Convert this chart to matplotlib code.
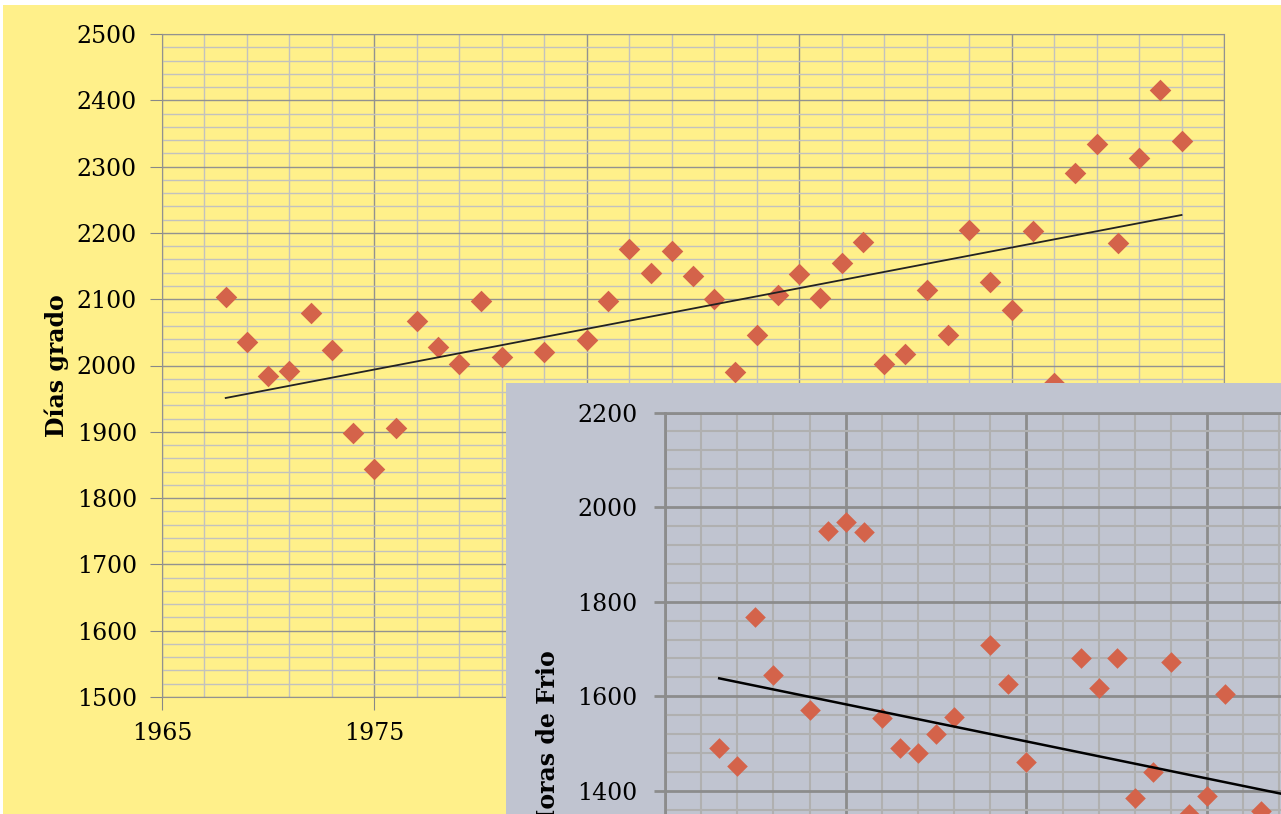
import matplotlib
matplotlib.use("Agg")
import matplotlib.pyplot as plt
from matplotlib.ticker import MultipleLocator

# --- DONNÉES : Días grado (graphique principal) ---
grado_years = [1968, 1969, 1970, 1971, 1972, 1973, 1974, 1975, 1976, 1977,
               1978, 1979, 1980, 1981, 1983, 1985, 1986, 1987, 1988, 1989,
               1990, 1991, 1992, 1993, 1994, 1995, 1996, 1997, 1998, 1999,
               2000, 2001, 2002, 2003, 2004, 2005, 2006, 2007, 2008, 2009,
               2010, 2011, 2012, 2013]
grado_vals = [2103, 2035, 1984, 1992, 2079, 2023, 1898, 1844, 1906, 2067,
              2028, 2002, 2097, 2013, 2020, 2038, 2097, 2176, 2140, 2173,
              2135, 2100, 1990, 2046, 2107, 2138, 2102, 2154, 2186, 2002,
              2017, 2114, 2046, 2204, 2126, 2084, 2203, 1974, 2290, 2334,
              2185, 2313, 2416, 2339]
grado_trend_years = [1968, 2013]
grado_trend_vals = [1951, 2227]

# --- DONNÉES : Horas de Frio (encart) ---
frio_years = [1968, 1969, 1970, 1971, 1973, 1974, 1975, 1976, 1977, 1978,
              1979, 1980, 1981, 1983, 1984, 1985, 1988, 1989, 1990, 1991,
              1992, 1993, 1994, 1995, 1996, 1998]
frio_vals = [1490, 1452, 1767, 1645, 1570, 1950, 1969, 1948, 1555, 1490,
             1481, 1521, 1557, 1708, 1627, 1462, 1682, 1617, 1682, 1386,
             1439, 1672, 1352, 1390, 1604, 1358]
frio_trend_years = [1968, 2013]
frio_trend_vals = [1638, 1285]

YELLOW = '#FFF08A'
GREY_BG = '#C0C4D0'
MARKER = '#D4634A'

W, H = 1281, 814
fig = plt.figure(figsize=(W / 100, H / 100), dpi=100, facecolor='white')
plt.rcParams['font.family'] = 'DejaVu Serif'


def fig_rect(x0, y0, x1, y1):
    """Pixels (haut-gauche) -> coordonnées figure."""
    return [x0 / W, 1 - y1 / H, (x1 - x0) / W, (y1 - y0) / H]


# fond jaune
bg = fig.add_axes(fig_rect(3, 5, W, H))
bg.set_facecolor(YELLOW)
bg.set_xticks([])
bg.set_yticks([])
for s in bg.spines.values():
    s.set_visible(False)

# --- GRAPHIQUE PRINCIPAL ---
ax = fig.add_axes(fig_rect(162, 34, 1224, 697))
ax.set_facecolor(YELLOW)
ax.scatter(grado_years, grado_vals, marker='D', s=11 ** 2, color=MARKER,
           zorder=3, linewidths=0)
ax.plot(grado_trend_years, grado_trend_vals, color='#222222', lw=1.3, zorder=4)
ax.set_xlim(1965, 2015)
ax.set_ylim(1500, 2500)
ax.xaxis.set_major_locator(MultipleLocator(10, offset=5))
ax.xaxis.set_minor_locator(MultipleLocator(2, offset=1))
ax.yaxis.set_major_locator(MultipleLocator(100))
ax.yaxis.set_minor_locator(MultipleLocator(20))
ax.grid(which='minor', color='#C2C2BE', lw=1.0)
ax.grid(which='major', color='#929290', lw=1.0)
ax.set_axisbelow(True)
ax.tick_params(which='major', length=9, color='#888888', labelsize=17,
               pad=9)
ax.tick_params(which='minor', length=0)
for s in ax.spines.values():
    s.set_color('#929290')
ax.set_ylabel('Días grado', fontsize=17, fontweight='bold')
ax.yaxis.set_label_coords(-(162 - 69) / (1224 - 162), 0.5)

# --- ENCART : Horas de Frio ---
panel = fig.add_axes(fig_rect(506, 383, W, H))
panel.set_facecolor(GREY_BG)
panel.set_xticks([])
panel.set_yticks([])
for s in panel.spines.values():
    s.set_visible(False)

ins = fig.add_axes(fig_rect(665, 412.5, 665 + 60 * 18.07, 412.5 + 1200 * 0.473))
ins.set_facecolor(GREY_BG)
ins.scatter(frio_years, frio_vals, marker='D', s=10.5 ** 2, color=MARKER,
            zorder=3, linewidths=0)
ins.plot(frio_trend_years, frio_trend_vals, color='black', lw=1.8, zorder=4)
ins.set_xlim(1965, 2025)
ins.set_ylim(1000, 2200)
ins.xaxis.set_major_locator(MultipleLocator(10, offset=5))
ins.xaxis.set_minor_locator(MultipleLocator(2, offset=1))
ins.yaxis.set_major_locator(MultipleLocator(200))
ins.yaxis.set_minor_locator(MultipleLocator(40))
ins.grid(which='minor', color='#B0B0B0', lw=1.5)
ins.grid(which='major', color='#8C8C8C', lw=2.0)
ins.set_axisbelow(True)
ins.tick_params(which='major', length=8, width=2, color='#8C8C8C',
                labelsize=17, pad=12)
ins.tick_params(which='minor', length=0)
ins.tick_params(axis='x', labelbottom=False)
for s in ins.spines.values():
    s.set_color('#8C8C8C')
    s.set_linewidth(2)

fig.text(548 / W, 1 - 650 / H, 'Horas de Frio', rotation=90, fontsize=17,
         fontweight='bold', ha='center', va='top')

plt.savefig('out.png', dpi=100, facecolor='white')
